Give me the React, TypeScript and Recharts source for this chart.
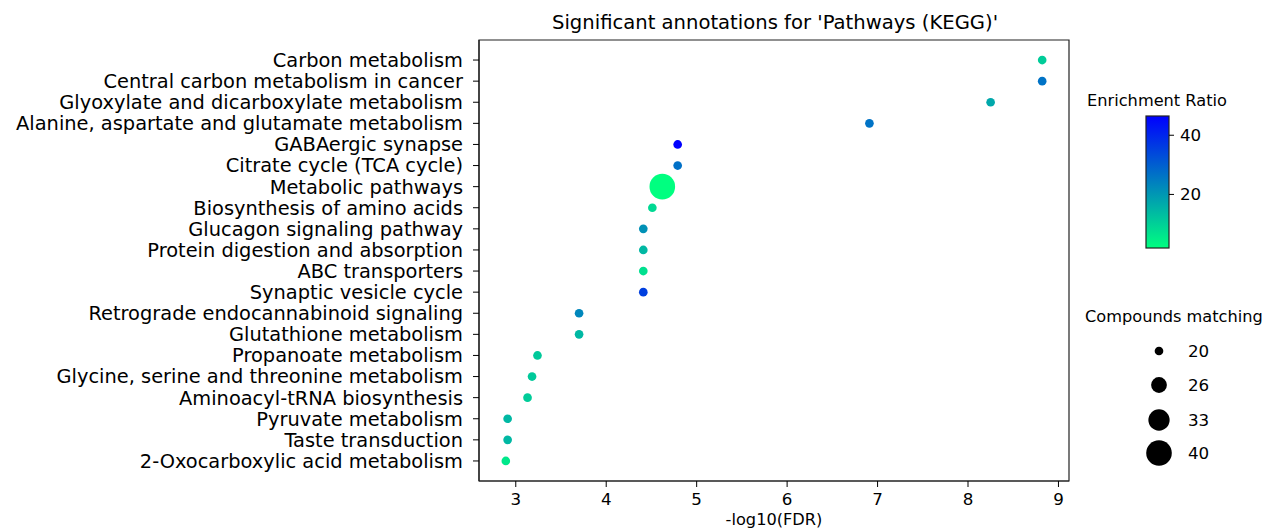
import React from 'react';
import { ScatterChart, Scatter, XAxis, YAxis, ZAxis, ReferenceArea, Label, Cell } from 'recharts';

const pathways = [
    'Carbon metabolism',
    'Central carbon metabolism in cancer',
    'Glyoxylate and dicarboxylate metabolism',
    'Alanine, aspartate and glutamate metabolism',
    'GABAergic synapse',
    'Citrate cycle (TCA cycle)',
    'Metabolic pathways',
    'Biosynthesis of amino acids',
    'Glucagon signaling pathway',
    'Protein digestion and absorption',
    'ABC transporters',
    'Synaptic vesicle cycle',
    'Retrograde endocannabinoid signaling',
    'Glutathione metabolism',
    'Propanoate metabolism',
    'Glycine, serine and threonine metabolism',
    'Aminoacyl-tRNA biosynthesis',
    'Pyruvate metabolism',
    'Taste transduction',
    '2-Oxocarboxylic acid metabolism',
];

// -log10(FDR)
const fdrScore = [8.82, 8.82, 8.25, 6.91, 4.79, 4.79, 4.62, 4.51, 4.41, 4.41, 4.41, 4.41, 3.70, 3.70, 3.24, 3.18, 3.13, 2.91, 2.91, 2.89];
const enrichmentRatio = [10.8, 26.4, 17.1, 26.4, 46.5, 26.9, 1.9, 8.6, 21.1, 14.4, 7.3, 35.4, 22.9, 14.4, 11.3, 11.3, 10.8, 14.4, 14.4, 5.9];
const compoundHits = [20, 20, 20, 20, 20, 20, 40, 20, 20, 20, 20, 20, 20, 20, 20, 20, 20, 20, 20, 20];

const xTicks = [3, 4, 5, 6, 7, 8, 9];
const colorbarTicks = [20, 40];
const sizeLegend = [20, 26, 33, 40];

const FONT = '"DejaVu Sans", sans-serif';
const W = 1267;
const H = 529;

const ratioMin = Math.min(...enrichmentRatio);
const ratioMax = Math.max(...enrichmentRatio);
const hitMin = Math.min(...compoundHits);
const hitMax = Math.max(...compoundHits);
const AREA_RANGE: [number, number] = [59, 515];

// matplotlib 'winter_r'
const winterR = (v: number) => {
    const t = Math.max(0, Math.min(1, (v - ratioMin) / (ratioMax - ratioMin)));
    const g = Math.round(255 * (1 - t));
    const b = Math.round(255 * (0.5 + 0.5 * t));
    return `rgb(0, ${g}, ${b})`;
};

const hitsToDiameter = (n: number) => {
    const area = AREA_RANGE[0] + ((n - hitMin) / (hitMax - hitMin)) * (AREA_RANGE[1] - AREA_RANGE[0]);
    return 2 * Math.sqrt(area / Math.PI);
};

const data = pathways.map((name, i) => ({
    name,
    y: i,
    x: fdrScore[i],
    z: compoundHits[i],
    ratio: enrichmentRatio[i],
}));

const xMargin = (Math.max(...fdrScore) - Math.min(...fdrScore)) * 0.05;
const xDomain: [number, number] = [Math.min(...fdrScore) - xMargin, Math.max(...fdrScore) + xMargin];
const yDomain: [number, number] = [-0.95, pathways.length - 1 + 0.95];

// colorbar geometry
const CB = { x: 1146, y: 116, w: 23, h: 132 };
const cbY = (v: number) => CB.y + CB.h - ((v - ratioMin) / (ratioMax - ratioMin)) * CB.h;

const Legends = () => (
    <svg width={W} height={H} style={{ position: 'absolute', left: 0, top: 0, pointerEvents: 'none' }} fontFamily={FONT}>
        <defs>
            <linearGradient id="winterR" x1="0" y1="1" x2="0" y2="0">
                <stop offset="0%" stopColor={winterR(ratioMin)} />
                <stop offset="100%" stopColor={winterR(ratioMax)} />
            </linearGradient>
        </defs>
        <text x={775} y={29} textAnchor="middle" fontSize={19.6} fill="#000">
            Significant annotations for 'Pathways (KEGG)'
        </text>

        <text x={1157} y={106} textAnchor="middle" fontSize={16.2} fill="#000">Enrichment Ratio</text>
        <rect x={CB.x} y={CB.y} width={CB.w} height={CB.h} fill="url(#winterR)" stroke="#222" strokeWidth={1.2} />
        {colorbarTicks.map(t => (
            <g key={t}>
                <line x1={CB.x + CB.w} x2={CB.x + CB.w + 5} y1={cbY(t)} y2={cbY(t)} stroke="#000" strokeWidth={1} />
                <text x={1180} y={cbY(t)} dy="0.36em" fontSize={16.7} fill="#000">{t}</text>
            </g>
        ))}

        <text x={1085} y={322} fontSize={16.2} fill="#000">Compounds matching</text>
        {sizeLegend.map((n, i) => {
            const cy = [351, 385, 420, 453][i];
            return (
                <g key={n}>
                    <circle cx={1159} cy={cy} r={hitsToDiameter(n) / 2} fill="#000" />
                    <text x={1188} y={cy} dy="0.36em" fontSize={16.7} fill="#000">{n}</text>
                </g>
            );
        })}
    </svg>
);

export default function App() {
    return (
        <div style={{ position: 'absolute', left: 0, top: 0, width: W, height: H, background: '#fff', fontFamily: FONT }}>
            <ScatterChart width={W} height={H} margin={{ top: 40, right: 198, bottom: 0, left: 0 }}>
                <XAxis
                    type="number"
                    dataKey="x"
                    domain={xDomain}
                    ticks={xTicks}
                    allowDataOverflow
                    height={48}
                    tickSize={6}
                    tickMargin={6}
                    axisLine={{ stroke: '#222', strokeWidth: 1.2 }}
                    tickLine={{ stroke: '#000' }}
                    tick={{ fill: '#000', fontSize: 16.7, fontFamily: FONT }}
                >
                    <Label value="-log10(FDR)" position="insideBottom" offset={4} fill="#000" fontSize={16.2} fontFamily={FONT} />
                </XAxis>
                <YAxis
                    type="number"
                    dataKey="y"
                    domain={yDomain}
                    reversed
                    ticks={pathways.map((_, i) => i)}
                    interval={0}
                    allowDataOverflow
                    width={479}
                    tickSize={6}
                    tickMargin={10}
                    tickFormatter={(i: number) => pathways[i] ?? ''}
                    axisLine={{ stroke: '#222', strokeWidth: 1.2 }}
                    tickLine={{ stroke: '#000' }}
                    tick={{ fill: '#000', fontSize: 19.4, fontFamily: FONT }}
                />
                <ZAxis type="number" dataKey="z" range={AREA_RANGE} domain={[hitMin, hitMax]} />
                <ReferenceArea
                    x1={xDomain[0]}
                    x2={xDomain[1]}
                    y1={yDomain[0]}
                    y2={yDomain[1]}
                    fill="none"
                    stroke="#222"
                    strokeWidth={1.2}
                    ifOverflow="visible"
                />
                <Scatter data={data} isAnimationActive={false}>
                    {data.map((d, idx) => (
                        <Cell key={`cell-${idx}`} fill={winterR(d.ratio)} />
                    ))}
                </Scatter>
            </ScatterChart>
            <Legends />
        </div>
    );
}
